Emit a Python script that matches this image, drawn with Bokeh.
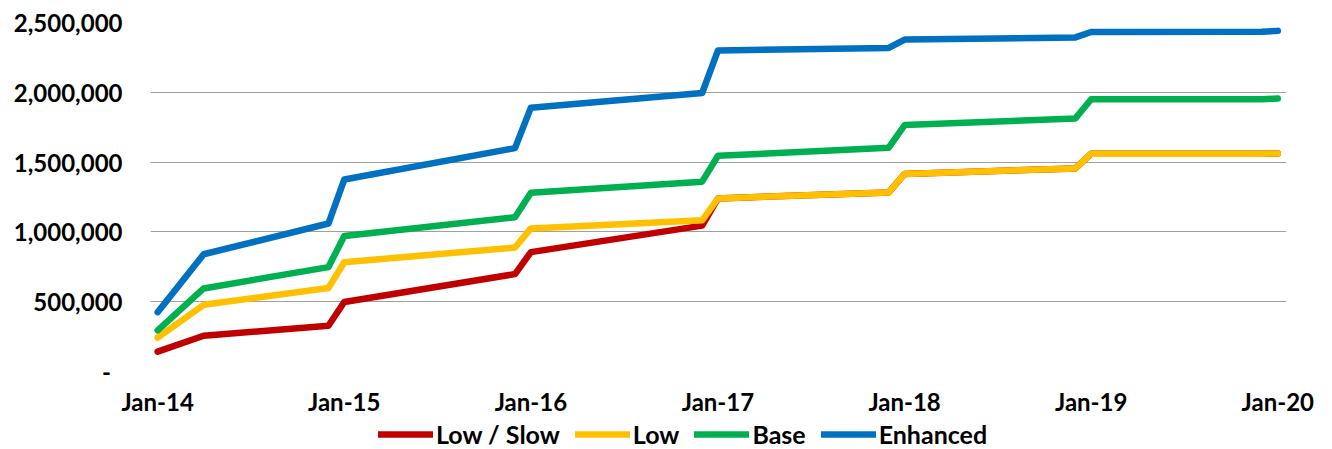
import pandas as pd
from bokeh.plotting import figure
from bokeh.layouts import column
from bokeh.models import (Range1d, FixedTicker, DatetimeTickFormatter, NumeralTickFormatter,
                          Legend, LegendItem)
from bokeh.embed import file_html
from bokeh.resources import INLINE

dates = ["2014-01-01", "2014-04-01", "2014-12-01", "2015-01-01", "2015-12-01", "2016-01-01",
         "2016-12-01", "2017-01-01", "2017-12-01", "2018-01-01", "2018-12-01", "2019-01-01",
         "2019-12-01", "2020-01-01"]
low_slow = [142000, 256000, 328000, 498000, 698000, 855000, 1045000, 1240000, 1283000,
            1415000, 1455000, 1560000, 1560000, 1562000]
low = [242000, 478000, 598000, 783000, 888000, 1025000, 1083000, 1240000, 1283000,
       1415000, 1455000, 1560000, 1560000, 1562000]
base = [295000, 595000, 748000, 970000, 1105000, 1280000, 1360000, 1545000, 1603000,
        1765000, 1813000, 1950000, 1950000, 1955000]
enhanced = [425000, 840000, 1060000, 1375000, 1600000, 1890000, 1995000, 2300000, 2318000,
            2378000, 2393000, 2432000, 2433000, 2440000]
series_names = ["Low / Slow", "Low", "Base", "Enhanced"]
colors = ["#C00000", "#FFC000", "#00B050", "#0070C0"]
x_tick_dates = ["2014-01-01", "2015-01-01", "2016-01-01", "2017-01-01", "2018-01-01",
                "2019-01-01", "2020-01-01"]
y_ticks = [0, 500000, 1000000, 1500000, 2000000, 2500000]

x = pd.to_datetime(dates)
x_ticks = [pd.Timestamp(d).value / 1e6 for d in x_tick_dates]
day = 86400000.0

MAIN_H = 418
p = figure(width=1332, height=MAIN_H, output_backend="svg", toolbar_location=None,
           x_axis_type="datetime",
           x_range=Range1d(x_ticks[0] - 14 * day, x_ticks[-1] + 17 * day),
           y_range=Range1d(0, 2500000))
p.min_border_left = 150
p.min_border_right = 46
p.min_border_top = 22
p.min_border_bottom = MAIN_H - 373
p.outline_line_color = None
p.background_fill_color = "white"
p.border_fill_color = "white"

font = "Lato"
p.xaxis.ticker = FixedTicker(ticks=x_ticks)
p.xaxis.formatter = DatetimeTickFormatter(years="%b-%y", months="%b-%y", days="%b-%y",
                                          hours="%b-%y", minutes="%b-%y", seconds="%b-%y",
                                          milliseconds="%b-%y", microseconds="%b-%y")
p.yaxis.ticker = FixedTicker(ticks=y_ticks)
p.yaxis.formatter = NumeralTickFormatter(format="0,0")
p.yaxis.major_label_overrides = {0: "-\u00a0\u00a0"}
for ax in (p.xaxis[0], p.yaxis[0]):
    ax.axis_line_color = None
    ax.major_tick_line_color = None
    ax.minor_tick_line_color = None
    ax.major_label_text_font = font
    ax.major_label_text_font_style = "bold"
    ax.major_label_text_font_size = "24px"
    ax.major_label_text_color = "#000000"
p.yaxis.major_label_standoff = 22
p.xaxis.major_label_standoff = 9

p.xgrid.grid_line_color = None
p.ygrid.ticker = FixedTicker(ticks=y_ticks)
p.ygrid.grid_line_color = "#a0a0a0"
p.ygrid.grid_line_width = 1

for vals, c in zip([low_slow, low, base, enhanced], colors):
    p.line(x, vals, line_color=c, line_width=6.5, line_join="round", line_cap="round")

# legend strip (its renderers hold data outside the visible range; only the legend shows)
lf = figure(width=1332, height=449 - MAIN_H, output_backend="svg", toolbar_location=None,
            x_range=Range1d(0, 1), y_range=Range1d(0, 1), min_border=0)
lf.axis.visible = False
lf.grid.grid_line_color = None
lf.outline_line_color = None
items = []
for name, c in zip(series_names, colors):
    r = lf.line(x=[-5, -4], y=[-5, -5], line_color=c, line_width=6.5, line_cap="round")
    items.append(LegendItem(label=name, renderers=[r]))
legend = Legend(items=items, orientation="horizontal", location=(228, 0))
legend.label_text_font = font
legend.label_text_font_style = "bold"
legend.label_text_font_size = "25px"
legend.label_text_color = "#000000"
legend.glyph_width = 55
legend.glyph_height = 20
legend.label_standoff = 3
legend.spacing = 15
legend.padding = 0
legend.margin = 0
legend.border_line_color = None
legend.background_fill_alpha = 0
lf.add_layout(legend, "center")

layout = column(p, lf, spacing=0)
open("out.html", "w").write(file_html(layout, INLINE))
